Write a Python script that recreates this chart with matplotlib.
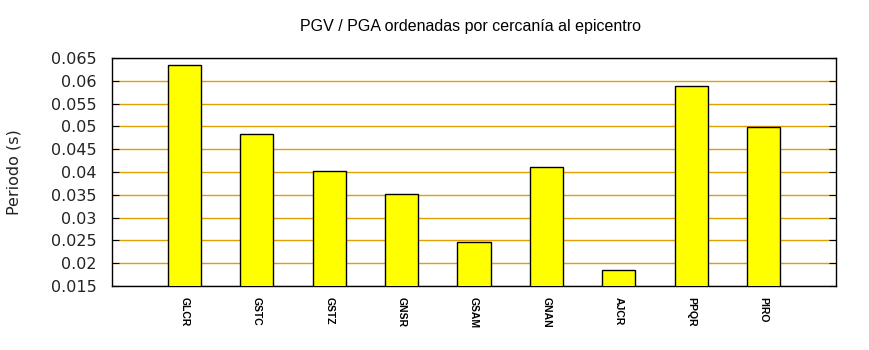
import matplotlib.pyplot as plt

stations = ["GLCR", "GSTC", "GSTZ", "GNSR", "GSAM", "GNAN", "AJCR", "PPQR", "PIRO"]
periods = [0.0635, 0.0483, 0.0402, 0.0351, 0.0247, 0.0411, 0.0184, 0.0589, 0.0499]
yticks = [0.015, 0.02, 0.025, 0.03, 0.035, 0.04, 0.045, 0.05, 0.055, 0.06, 0.065]
ytick_labels = ["0.015", "0.02", "0.025", "0.03", "0.035", "0.04",
                "0.045", "0.05", "0.055", "0.06", "0.065"]


def main():
    fig = plt.figure(figsize=(8.7, 3.5), dpi=100)
    ax = fig.add_axes([112 / 870, 1 - 286 / 350, 724 / 870, 228 / 350])

    x = list(range(1, len(stations) + 1))
    ax.bar(x, periods, width=0.46,
           color="#ffff00", edgecolor="black", linewidth=1.0, zorder=3)

    ax.set_xlim(0, len(stations) + 1)
    ax.set_ylim(0.015, 0.065)
    ax.set_yticks(yticks)
    ax.set_yticklabels(ytick_labels, fontsize=11.5, color="#222222")
    ax.set_xticks(x)
    ax.set_xticklabels(stations, rotation=-90, fontsize=7.5,
                       family="Liberation Sans", fontweight="bold")
    ax.tick_params(axis="x", length=0, pad=8)
    ax.tick_params(axis="y", direction="in", length=5, right=True, pad=11)

    ax.grid(axis="y", color="#e0a000", linewidth=1.0, zorder=0)
    ax.set_axisbelow(True)
    for s in ax.spines.values():
        s.set_linewidth(1.0)

    ax.set_ylabel("Periodo (s)", fontsize=11.5, color="#222222", labelpad=21)
    fig.text(471 / 870, 1 - 27 / 350, "PGV / PGA ordenadas por cercanía al epicentro",
             ha="center", va="center", fontsize=11.5, family="Liberation Sans")

    fig.savefig("out.png", dpi=100)


if __name__ == "__main__":
    main()
